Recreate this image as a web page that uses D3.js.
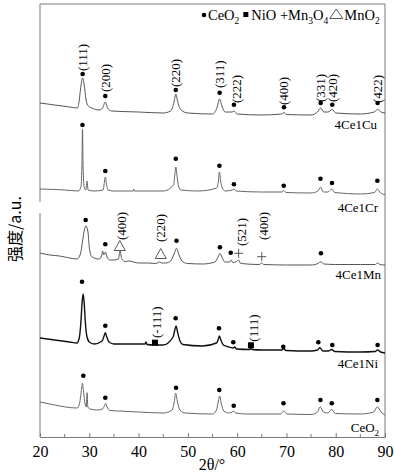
<!DOCTYPE html>
<html>
<head>
<meta charset="utf-8">
<script src="https://cdn.jsdelivr.net/npm/d3@7"></script>
<style>
  html, body { margin: 0; padding: 0; background: #fff; }
  svg { display: block; font-family: "Liberation Serif", "DejaVu Serif", serif; }
</style>
</head>
<body>
<div id="main-container"></div>
<script>
// XRD patterns [2theta, intensity (a.u., stacked)]
const cuTrace = [[20,334],[23,332],[26,330],[27.6,329],[27.97,337],[28.2,347],[28.65,359],[29.1,347],[29.35,337],[29.8,331],[30.5,329],[32,327],[32.7,329],[33.25,335],[33.7,329],[34.5,326],[40,325],[45,324],[46.5,326],[47.2,335],[47.55,343],[47.9,336],[48.6,327],[50,324],[55,323],[55.9,329],[56.45,338],[56.9,331],[57.6,325],[59.0,325],[59.35,326],[60,323],[65,322],[69.0,323],[69.5,324.5],[70.0,322.5],[75,322],[76.3,325],[76.95,329],[77.6,325],[78.4,325],[79.3,327.5],[80.0,324],[85,323],[87.8,325],[88.5,327.5],[89.2,325],[90,324]];
const crTrace = [[20,248],[25,247],[27.8,246],[28.3,250],[28.5,270],[28.62,308],[28.75,270],[28.95,250],[29.3,247],[29.55,256],[29.75,247],[31,246],[32.8,247],[33.1,256],[33.25,260],[33.45,254],[33.8,247],[35,246],[38.9,246],[39.0,248],[39.1,246],[45,246],[47.1,252],[47.35,262],[47.55,270],[47.8,261],[48.1,251],[48.6,247],[52,246],[55.9,249],[56.2,256],[56.4,265],[56.65,256],[57.0,249],[57.6,246],[59.0,247],[59.35,248],[59.8,246],[65,245],[69.1,245],[69.45,246.5],[69.9,244.5],[75,244],[76.4,246],[76.9,250],[77.5,245],[78.4,245],[79.2,248],[79.8,244.5],[85,243],[87.9,244.5],[88.45,248],[89.1,244],[90,242.5]];
const mnTrace = [[20,184],[22,182],[24,181],[26,179],[27.5,178],[28.2,183],[28.6,195],[29.0,207],[29.3,211],[29.7,206],[30.0,190],[30.4,181],[31,179],[32,178],[32.5,181],[32.7,186],[32.95,182],[33.3,185],[33.6,180],[34.2,177],[35,177],[35.9,178],[36.25,186],[36.6,178],[37.3,175.5],[38,176],[40,174],[42,174],[43.5,173.5],[44.3,175],[44.7,174],[45.5,174],[46.5,176],[47.2,183],[47.7,188.7],[48.2,182],[49,175],[50,173.5],[53,173],[55.5,175],[56.2,181],[56.5,183.7],[56.9,180],[57.5,175],[58.5,175],[58.8,177],[59.1,174.5],[59.7,175],[60.3,177],[60.6,174],[62,173],[64.5,172.5],[65.0,174],[65.4,172.5],[70,172],[75,172],[76.4,173.5],[77.0,175.3],[77.6,173],[80,172.5],[85,172.5],[88,172.5],[88.5,174],[89.0,172.5],[90,172]];
const niTrace = [[20,99],[23,97],[26,95],[27.5,94],[28.0,100],[28.3,115],[28.55,135],[28.75,143],[28.95,135],[29.2,115],[29.5,101],[30,95],[31,93],[32.6,96],[33.0,101],[33.25,104.3],[33.55,100],[34,95],[35,93],[37,93],[41.3,93],[41.5,95],[41.7,92.5],[43.1,92],[43.3,94.5],[43.5,92],[45,92],[47.0,100],[47.3,106],[47.6,111],[47.95,104],[48.4,96],[49,92.5],[53,91],[55.8,94],[56.2,98],[56.4,101],[56.7,97],[57.2,92],[58,90.5],[59.2,89],[59.5,90],[59.9,88],[62.6,87.5],[62.8,89],[63.0,87.5],[65,87],[69.1,87],[69.45,88.5],[69.9,86.5],[75,86],[76.3,87],[76.8,89.3],[77.4,86],[78.5,86],[79.2,87.5],[79.8,85.5],[85,85],[88,85.5],[88.5,87],[89.1,85],[90,84]];
const ceTrace = [[20,35],[22,33],[24,31],[26,29.5],[27.5,29],[28.0,33],[28.35,45],[28.6,53.7],[28.85,45],[29.15,33],[29.4,30],[29.55,44.3],[29.7,30],[30.2,28],[31.5,27],[32.7,28],[33.1,31.5],[33.3,33.7],[33.6,30],[34.2,26.5],[36,26],[40,25],[45,24],[46.8,27],[47.2,34],[47.55,43.7],[47.9,35],[48.4,27],[49.5,24],[55,23],[55.8,27],[56.2,36],[56.45,41],[56.8,33],[57.3,26],[58.3,24],[59.0,25],[59.3,26],[59.7,24],[62,23],[68.8,23],[69.45,26],[70.1,23],[75,22.5],[76.3,25],[76.85,30.3],[77.5,25],[78.4,24],[79.2,27.7],[79.9,23.5],[85,23],[87.7,25],[88.45,30.3],[89.2,25],[90,22]];

// CeO2 reflection markers per pattern [2theta, intensity]
const cuDots = [[28.65,363],[33.25,341],[47.55,347],[56.45,344.3],[59.35,332.3],[69.5,329.7],[76.95,334],[79.3,332.3],[88.5,334]];
const crDots = [[28.62,312],[33.25,266],[47.55,278.3],[56.4,271.3],[59.35,252.7],[69.45,251.3],[76.9,258.3],[79.25,254],[88.45,256.3]];
const mnDots = [[29.27,217],[33.25,192.7],[47.7,196.3],[56.5,189.7],[58.7,184.3],[77.0,183.7]];
const niDots = [[28.52,155.3],[33.25,111.3],[47.53,118.7],[56.32,108.7],[59.22,94.7],[69.36,90.3],[76.47,94.7],[79.3,92],[88.5,92]];
const ceDots = [[28.79,61.3],[33.25,39.3],[47.6,49.3],[56.38,47],[59.3,31.3],[69.4,33.7],[76.9,37],[79.2,33.7],[88.45,37]];
const mno2Marks = [[36.2,191],[44.5,183]];
const mn3o4Marks = [[60.3,183.7],[65.0,180.3]];
const nioMarks = [[43.33,94.3],[62.8,91.7]];

// Miller index labels [2theta, intensity at text start, text]
const hklLabels = [
  [28.65,366,'(111)'],[33.25,345,'(200)'],[47.55,350,'(220)'],[56.45,349,'(311)'],[59.95,334,'(222)'],
  [69.5,332,'(400)'],[76.95,335,'(331)'],[79.4,335,'(420)'],[88.5,334,'(422)'],
  [36.55,197,'(400)'],[44.5,195,'(220)'],[60.95,191,'(521)'],[65.3,197,'(400)'],
  [43.7,99,'(-111)'],[63.3,95.3,'(111)']
];
// Sample names [2theta (right end), intensity (baseline), name]
const sampleNames = [[88.4,308,'4Ce1Cu'],[88.6,225,'4Ce1Cr'],[89.2,158,'4Ce1Mn'],[88.6,69,'4Ce1Ni'],[88.8,5,'CeO2']];

const xTicks = [20, 30, 40, 50, 60, 70, 80, 90];
const xMinorTicks = [25, 35, 45, 55, 65, 75, 85];

const W = 394, H = 476;
const PLOT = { left: 40, right: 385, top: 4, bottom: 437 };
const SERIF = '"Liberation Serif", "DejaVu Serif", serif';

const svg = d3.select('#main-container').append('svg')
  .attr('width', W).attr('height', H);

const x = d3.scaleLinear().domain([20, 90]).range([PLOT.left, PLOT.right]);
const y = d3.scaleLinear().domain([0, 433]).range([PLOT.bottom, PLOT.top]);

const FRAME = '#7a7a7a';

// frame (left side has a small break as in the original)
svg.append('path')
  .attr('d', `M${PLOT.left},202 V${PLOT.top} H${PLOT.right} V${PLOT.bottom}`)
  .attr('fill', 'none').attr('stroke', FRAME).attr('stroke-width', 1);
svg.append('line')
  .attr('x1', PLOT.left).attr('x2', PLOT.left).attr('y1', 213).attr('y2', PLOT.bottom)
  .attr('stroke', FRAME);

// x axis
const xAxis = svg.append('g')
  .attr('transform', `translate(0,${PLOT.bottom})`)
  .call(d3.axisBottom(x).tickValues(xTicks).tickSize(-4).tickPadding(9).tickFormat(d3.format('d')))
  .attr('font-family', SERIF);
xAxis.select('.domain').attr('stroke', FRAME);
xAxis.selectAll('.tick line').attr('stroke', FRAME);
xAxis.selectAll('.tick text')
  .attr('fill', '#000').style('font-size', '16px').style('font-family', SERIF);
svg.append('g').selectAll('line')
  .data(xMinorTicks).join('line')
  .attr('x1', d => x(d)).attr('x2', d => x(d))
  .attr('y1', PLOT.bottom).attr('y2', PLOT.bottom - 3)
  .attr('stroke', FRAME);

svg.append('text')
  .attr('x', 212).attr('y', 470)
  .attr('text-anchor', 'middle')
  .style('font-size', '16px')
  .text('2θ/°');

svg.append('text')
  .attr('transform', 'translate(21,229) rotate(-90)')
  .attr('text-anchor', 'middle')
  .style('font-size', '16px')
  .style('font-family', '"Noto Sans CJK SC", sans-serif')
  .text('强度/a.u.');

// traces
const line = d3.line()
  .x(d => x(d[0])).y(d => y(d[1]))
  .curve(d3.curveMonotoneX);

const traces = [
  { data: cuTrace, color: '#555', w: 1 },
  { data: crTrace, color: '#666', w: 1 },
  { data: mnTrace, color: '#555', w: 1 },
  { data: niTrace, color: '#111', w: 1.4 },
  { data: ceTrace, color: '#666', w: 1 }
];
svg.append('g').selectAll('path')
  .data(traces).join('path')
  .attr('d', d => line(d.data))
  .attr('fill', 'none')
  .attr('stroke', d => d.color)
  .attr('stroke-width', d => d.w)
  .attr('stroke-linejoin', 'round');

// markers
const dots = [].concat(cuDots, crDots, mnDots, niDots, ceDots);
svg.append('g').selectAll('circle')
  .data(dots).join('circle')
  .attr('cx', d => x(d[0])).attr('cy', d => y(d[1]))
  .attr('r', 2.3).attr('fill', '#000');

svg.append('g').selectAll('rect')
  .data(nioMarks).join('rect')
  .attr('x', d => x(d[0]) - 3).attr('y', d => y(d[1]) - 3)
  .attr('width', 6).attr('height', 6).attr('fill', '#000');

svg.append('g').selectAll('path')
  .data(mno2Marks).join('path')
  .attr('d', d => {
    const cx = x(d[0]), cy = y(d[1]);
    return `M${cx},${cy - 5.5} L${cx + 5.5},${cy + 4.5} L${cx - 5.5},${cy + 4.5} Z`;
  })
  .attr('fill', '#fff').attr('stroke', '#444').attr('stroke-width', 0.9);

svg.append('g').selectAll('path')
  .data(mn3o4Marks).join('path')
  .attr('d', d => {
    const cx = x(d[0]), cy = y(d[1]);
    return `M${cx - 4.5},${cy} H${cx + 4.5} M${cx},${cy - 4.5} V${cy + 4.5}`;
  })
  .attr('stroke', '#444').attr('stroke-width', 0.9);

// hkl labels (rotated)
svg.append('g').selectAll('text')
  .data(hklLabels).join('text')
  .attr('transform', d => `translate(${x(d[0]) + 4.5},${y(d[1])}) rotate(-90)`)
  .style('font-size', '13px')
  .text(d => d[2]);

// sample names
const names = svg.append('g').selectAll('text')
  .data(sampleNames).join('text')
  .attr('x', d => x(d[0])).attr('y', d => y(d[1]))
  .attr('text-anchor', 'end')
  .style('font-size', '13px');
names.each(function (d) {
  const t = d3.select(this);
  if (d[2] === 'CeO2') {
    t.append('tspan').text('CeO');
    t.append('tspan').attr('dy', 4).style('font-size', '9px').text('2');
  } else {
    t.text(d[2]);
  }
});

// legend: text flows, symbols placed in front of each entry
const lg = svg.append('g').attr('transform', 'translate(208,20)');
const lt = lg.append('text').attr('x', 0).attr('y', 0).style('font-size', '14.5px');
lt.append('tspan').text('CeO');
lt.append('tspan').attr('dy', 4).style('font-size', '9.5px').text('2');
const niSpan = lt.append('tspan').attr('dy', -4).attr('dx', 12).text('NiO +Mn');
lt.append('tspan').attr('dy', 4).style('font-size', '9.5px').text('3');
lt.append('tspan').attr('dy', -4).text('O');
lt.append('tspan').attr('dy', 4).style('font-size', '9.5px').text('4');
const mnSpan = lt.append('tspan').attr('dy', -4).attr('dx', 16).text('MnO');
lt.append('tspan').attr('dy', 4).style('font-size', '9.5px').text('2');

const niX = niSpan.node().getBBox().x;
const mnX = mnSpan.node().getBBox().x;
lg.append('circle').attr('cx', -4).attr('cy', -5).attr('r', 2.3).attr('fill', '#000');
lg.append('rect').attr('x', niX - 8).attr('y', -8).attr('width', 5).attr('height', 5).attr('fill', '#000');
lg.append('path')
  .attr('d', `M${mnX - 8},-11 L${mnX - 1.5},-1.5 L${mnX - 14.5},-1.5 Z`)
  .attr('fill', 'none').attr('stroke', '#444').attr('stroke-width', 0.9);
</script>
</body>
</html>
